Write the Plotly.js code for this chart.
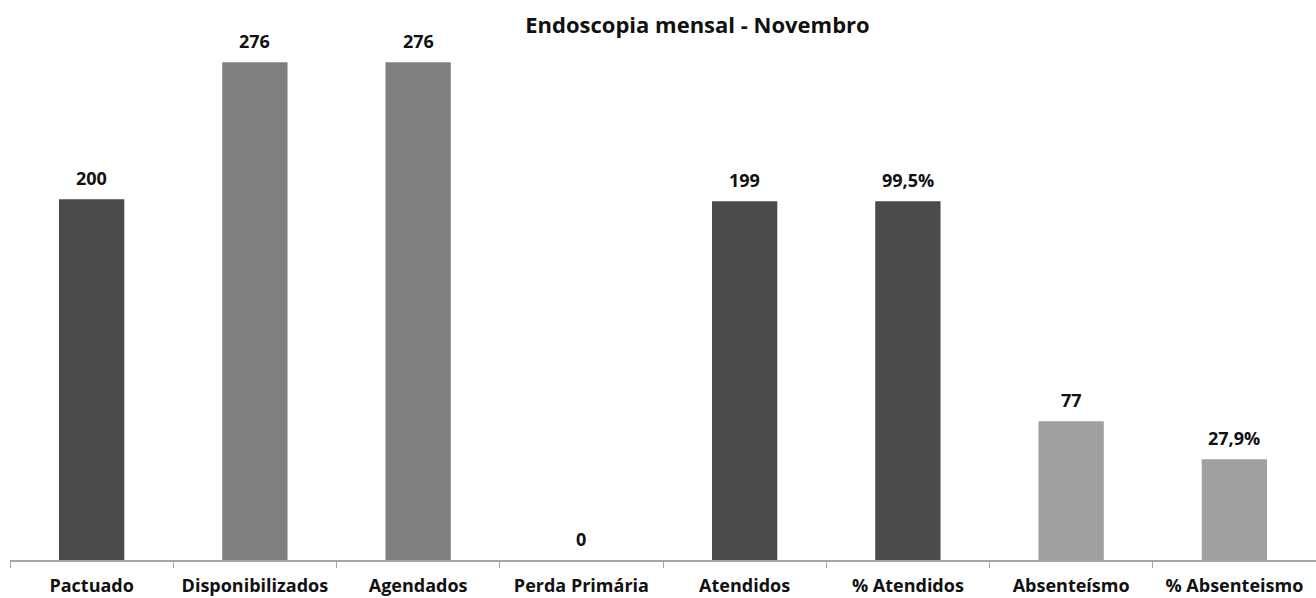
<!DOCTYPE html>
<html>
<head>
<meta charset="utf-8">
<script src="https://cdn.plot.ly/plotly-3.0.1.min.js"></script>
<style>
  html, body { margin: 0; padding: 0; background: #fff; overflow: hidden; }
  #chart { width: 1316px; height: 598px; }
</style>
</head>
<body>
<div id="chart"></div>
<script>
// Monthly endoscopy figures for November
const categories = ['Pactuado', 'Disponibilizados', 'Agendados', 'Perda Primária',
                    'Atendidos', '% Atendidos', 'Absenteísmo', '% Absenteismo'];

// counts (left scale)
const countValues = [200, 276, 276, 0, 199, null, 77, null];
// percentages (right scale)
const percentValues = [null, null, null, null, null, 99.5, null, 27.9];

const dark = '#4a4a4a', mid = '#7f7f7f', light = '#a0a0a0';
const barColors = [dark, mid, mid, dark, dark, dark, light, light];

const fmtPct = v => v.toFixed(1).replace('.', ',') + '%';

const traces = [
  {
    type: 'bar', x: categories, y: countValues,
    marker: { color: barColors }, hoverinfo: 'x+y', showlegend: false
  },
  {
    type: 'bar', x: categories, y: percentValues, yaxis: 'y2',
    marker: { color: barColors }, hoverinfo: 'x+y', showlegend: false
  }
];

const labelFont = { family: 'Open Sans, sans-serif', size: 18, color: '#111', weight: 'bold' };
const annotations = [];
categories.forEach((c, i) => {
  if (countValues[i] !== null) {
    annotations.push({ x: c, y: countValues[i], xref: 'x', yref: 'y', text: String(countValues[i]),
      showarrow: false, yanchor: 'bottom', yshift: 7, font: labelFont });
  }
  if (percentValues[i] !== null) {
    annotations.push({ x: c, y: percentValues[i], xref: 'x', yref: 'y2', text: fmtPct(percentValues[i]),
      showarrow: false, yanchor: 'bottom', yshift: 7, font: labelFont });
  }
});

const layout = {
  width: 1316, height: 598,
  margin: { l: 10, r: 0, t: 19, b: 38 },
  paper_bgcolor: '#fff', plot_bgcolor: '#fff',
  barmode: 'overlay', bargap: 0.6,
  title: {
    text: 'Endoscopia mensal - Novembro',
    font: { family: 'Open Sans, sans-serif', size: 22, color: '#111', weight: 'bold' },
    xref: 'container', x: 0.53, xanchor: 'center',
    yref: 'container', y: 1 - 25 / 598, yanchor: 'middle'
  },
  xaxis: {
    type: 'category', tickson: 'boundaries', ticks: 'outside', ticklen: 6,
    tickcolor: '#a6a6a6', showline: true, linecolor: '#a6a6a6', linewidth: 1.5,
    showgrid: false, zeroline: false, ticklabelstandoff: 9,
    tickfont: { family: 'Open Sans, sans-serif', size: 18, color: '#111', weight: 'bold' }
  },
  yaxis: { range: [0, 300], visible: false, showgrid: false, zeroline: false },
  yaxis2: { range: [0, 150], overlaying: 'y', side: 'right', visible: false, showgrid: false, zeroline: false },
  annotations: annotations
};

Plotly.newPlot('chart', traces, layout, { displayModeBar: false, staticPlot: true });
</script>
</body>
</html>
